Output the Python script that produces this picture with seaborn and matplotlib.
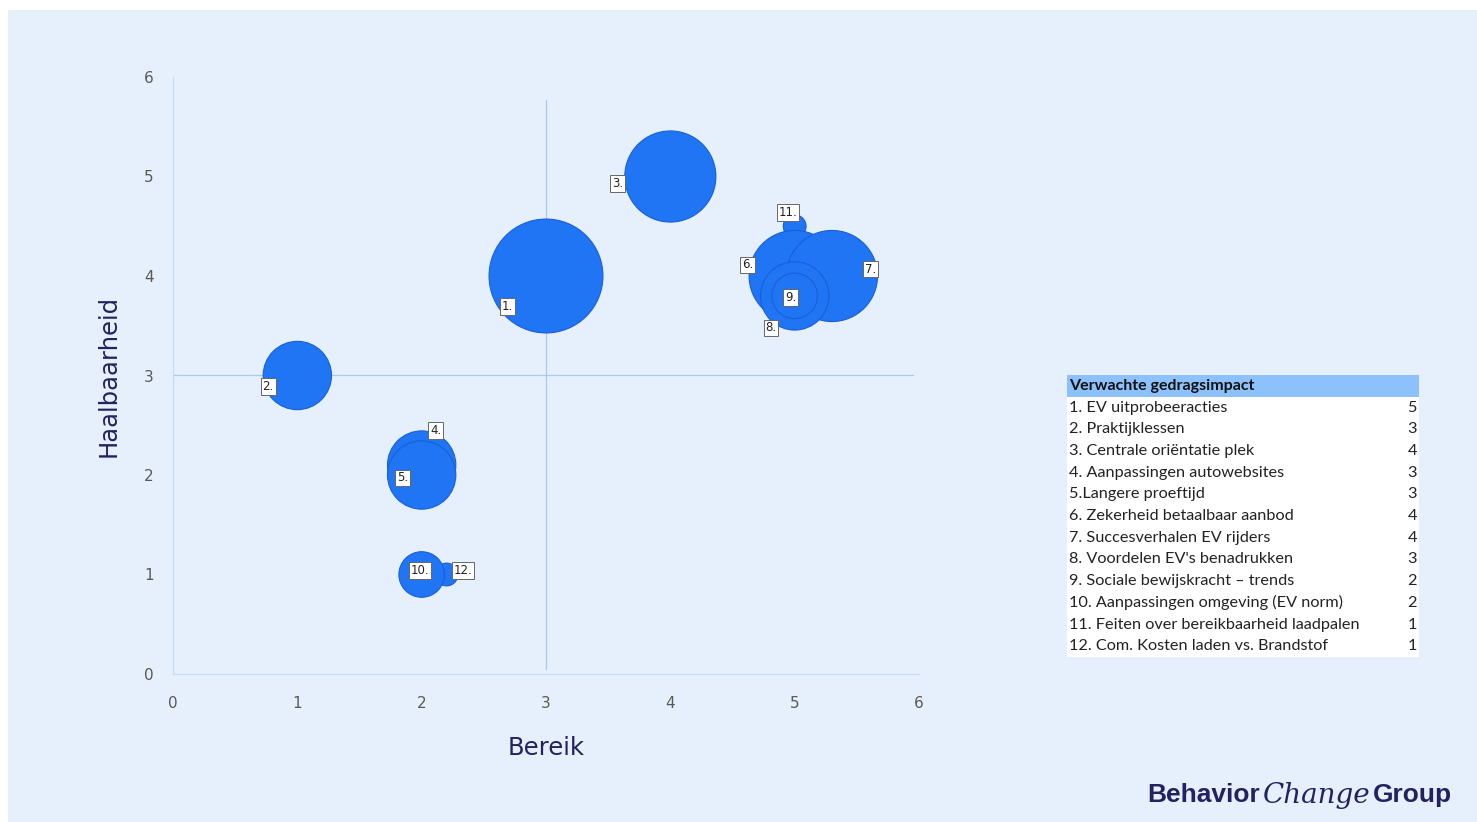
import pandas as pd
import matplotlib.pyplot as plt
import seaborn as sns
from matplotlib.patches import Rectangle

# --- data ---
labels = ['1.', '2.', '3.', '4.', '5.', '6.', '7.', '8.', '9.', '10.', '11.', '12.']
names = ['1. EV uitprobeeracties', '2. Praktijklessen', '3. Centrale oriëntatie plek',
         '4. Aanpassingen autowebsites', '5.Langere proeftijd', '6. Zekerheid betaalbaar aanbod',
         '7. Succesverhalen EV rijders', "8. Voordelen EV's benadrukken",
         '9. Sociale bewijskracht – trends', '10. Aanpassingen omgeving (EV norm)',
         '11. Feiten over bereikbaarheid laadpalen', '12. Com. Kosten laden vs. Brandstof']
bereik = [3, 1, 4, 2, 2, 5, 5.3, 5, 5, 2, 5, 2.2]
haalbaarheid = [4, 3, 5, 2.1, 2, 4, 4, 3.8, 3.8, 1, 4.5, 1]
impact = [5, 3, 4, 3, 3, 4, 4, 3, 2, 2, 1, 1]

# label offsets in points (style only)
label_offsets = [(-28, -22), (-21, -8), (-38, -5), (10, 25), (-14, -2), (-34, 8),
                 (28, 5), (-17, -23), (-3, -1), (-1, 3), (-5, 10), (12, 3)]

BG = '#e5f0fc'
BLUE = '#1f75f3'
NAVY = '#24215f'

df = pd.DataFrame({'label': labels, 'bereik': bereik, 'haalbaarheid': haalbaarheid,
                   'impact': impact})
# smallest bubbles sit behind the others
draw_df = pd.concat([df[df.impact == 1], df[df.impact != 1]])

sns.set_theme(style='white')
plt.rcParams['font.family'] = ['DejaVu Sans']

fig = plt.figure(figsize=(14.77, 8.22), dpi=100)
fig.patch.set_facecolor('white')
fig.patches.append(Rectangle((8 / 1477, 0), 1, 1 - 10 / 822, transform=fig.transFigure,
                             facecolor=BG, edgecolor='none', zorder=-1))

ax = fig.add_axes([173 / 1477, 1 - 674 / 822, (919 - 173) / 1477, (674 - 77) / 822])
ax.set_facecolor(BG)

size_map = {v: (16.4 * v) ** 2 for v in sorted(set(impact))}
sns.scatterplot(data=draw_df, x='bereik', y='haalbaarheid', size='impact', sizes=size_map,
                color=BLUE, edgecolor='#1a5fd6', linewidth=0.8, alpha=1, legend=False,
                ax=ax, zorder=3)

for lab, x, y, off in zip(labels, bereik, haalbaarheid, label_offsets):
    ax.annotate(lab, (x, y), xytext=off, textcoords='offset points', ha='center', va='center',
                fontsize=8.5, color='#222222', zorder=5,
                bbox=dict(boxstyle='square,pad=0.15', facecolor='white', edgecolor='#666666',
                          linewidth=0.7))

ax.axhline(3, xmin=0, xmax=(5.95) / 6, color='#a9c8f0', lw=0.9, zorder=1)
ax.plot([3, 3], [0.05, 5.77], color='#a9c8f0', lw=0.9, zorder=1)

ax.set_xlim(0, 6)
ax.set_ylim(0, 6)
ax.set_xticks(range(7))
ax.set_yticks(range(7))
ax.tick_params(axis='both', labelsize=11, colors='#595959', length=0)
ax.tick_params(axis='x', pad=16)
ax.tick_params(axis='y', pad=14)
for side in ['top', 'right']:
    ax.spines[side].set_visible(False)
for side in ['left', 'bottom']:
    ax.spines[side].set_color('#c8dcf4')
    ax.spines[side].set_linewidth(0.9)
ax.set_xlabel('Bereik', fontsize=17.5, color=NAVY, labelpad=18)
ax.set_ylabel('Haalbaarheid', fontsize=17.5, color=NAVY, labelpad=17)

# --- impact table ---
tx0, tx1 = 1067 / 1477, 1419 / 1477
top = 1 - 375 / 822
rh = 21.7 / 822
tfont = 'Lato'
fig.patches.append(Rectangle((tx0, top - rh), tx1 - tx0, rh, transform=fig.transFigure,
                             facecolor='#8cc1fb', edgecolor='none'))
fig.patches.append(Rectangle((tx0, top - rh * 13), tx1 - tx0, rh * 12, transform=fig.transFigure,
                             facecolor='white', edgecolor='none'))
fig.text(tx0 + 2 / 1477, top - rh / 2, 'Verwachte gedragsimpact', fontsize=11.5,
         fontweight='bold', family=tfont, va='center', ha='left', color='#111111')
for i, (nm, v) in enumerate(zip(names, impact)):
    yy = top - rh * (i + 1.5)
    fig.text(tx0 + 2 / 1477, yy, nm, fontsize=11.7, family=tfont, va='center', ha='left',
             color='#222222')
    fig.text(tx1 - 2 / 1477, yy, str(v), fontsize=11.7, family=tfont, va='center', ha='right',
             color='#222222')

# --- logo ---
ly = 1 - 795 / 822
t1 = fig.text(1147 / 1477, ly, 'Behavior', fontsize=19, fontweight='bold', color=NAVY,
              family='Liberation Sans', va='center', ha='left')
fig.canvas.draw()
bb = t1.get_window_extent()
t2 = fig.text(bb.x1 / 1477 + 3 / 1477, ly, 'Change', fontsize=20, style='italic', color=NAVY,
              family='DejaVu Serif', va='center', ha='left')
fig.canvas.draw()
bb2 = t2.get_window_extent()
fig.text(bb2.x1 / 1477 + 3 / 1477, ly, 'Group', fontsize=19, fontweight='bold', color=NAVY,
         family='Liberation Sans', va='center', ha='left')

fig.savefig('out.png', dpi=100, facecolor=fig.get_facecolor())
